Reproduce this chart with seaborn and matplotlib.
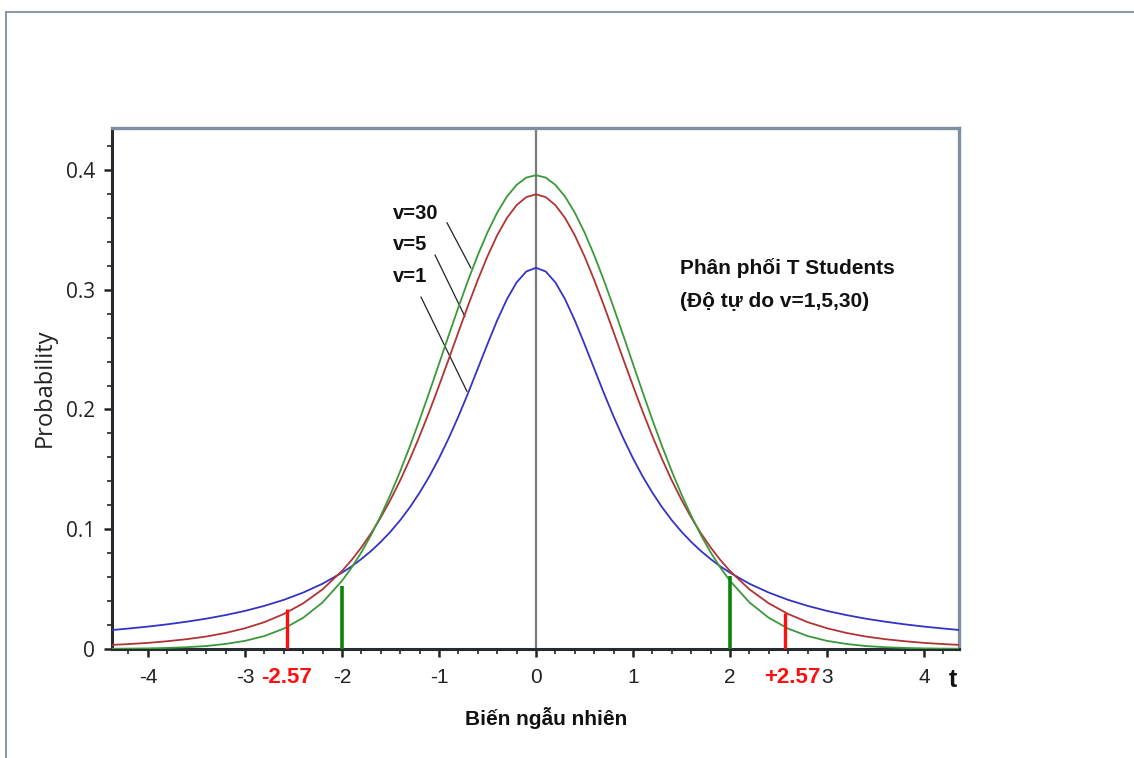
import numpy as np
import pandas as pd
import matplotlib
matplotlib.use("Agg")
import matplotlib.pyplot as plt
from matplotlib.ticker import MultipleLocator
from matplotlib.lines import Line2D
import seaborn as sns

# values
t_vals = [-4.4, -4.2, -4.0, -3.8, -3.6, -3.4, -3.2, -3.0, -2.8, -2.6, -2.4, -2.2,
          -2.0, -1.9, -1.8, -1.7, -1.6, -1.5, -1.4, -1.3, -1.2, -1.1, -1.0,
          -0.9, -0.8, -0.7, -0.6, -0.5, -0.4, -0.3, -0.2, -0.1, 0.0,
          0.1, 0.2, 0.3, 0.4, 0.5, 0.6, 0.7, 0.8, 0.9, 1.0,
          1.1, 1.2, 1.3, 1.4, 1.5, 1.6, 1.7, 1.8, 1.9, 2.0,
          2.2, 2.4, 2.6, 2.8, 3.0, 3.2, 3.4, 3.6, 3.8, 4.0, 4.2, 4.4]

p_v1 = [0.0156, 0.0171, 0.0187, 0.0206, 0.0228, 0.0253, 0.0283, 0.0318, 0.0360, 0.0410, 0.0471, 0.0545,
        0.0637, 0.0690, 0.0751, 0.0818, 0.0894, 0.0979, 0.1075, 0.1183, 0.1305, 0.1440, 0.1592,
        0.1759, 0.1941, 0.2136, 0.2341, 0.2546, 0.2744, 0.2920, 0.3061, 0.3152, 0.3183,
        0.3152, 0.3061, 0.2920, 0.2744, 0.2546, 0.2341, 0.2136, 0.1941, 0.1759, 0.1592,
        0.1440, 0.1305, 0.1183, 0.1075, 0.0979, 0.0894, 0.0818, 0.0751, 0.0690, 0.0637,
        0.0545, 0.0471, 0.0410, 0.0360, 0.0318, 0.0283, 0.0253, 0.0228, 0.0206, 0.0187, 0.0171, 0.0156]

p_v5 = [0.0033, 0.0041, 0.0051, 0.0065, 0.0082, 0.0104, 0.0134, 0.0173, 0.0224, 0.0292, 0.0381, 0.0498,
        0.0651, 0.0743, 0.0848, 0.0966, 0.1098, 0.1245, 0.1407, 0.1585, 0.1777, 0.1981, 0.2197,
        0.2419, 0.2645, 0.2868, 0.3081, 0.3279, 0.3454, 0.3598, 0.3706, 0.3773, 0.3796,
        0.3773, 0.3706, 0.3598, 0.3454, 0.3279, 0.3081, 0.2868, 0.2645, 0.2419, 0.2197,
        0.1981, 0.1777, 0.1585, 0.1407, 0.1245, 0.1098, 0.0966, 0.0848, 0.0743, 0.0651,
        0.0498, 0.0381, 0.0292, 0.0224, 0.0173, 0.0134, 0.0104, 0.0082, 0.0065, 0.0051, 0.0041, 0.0033]

p_v30 = [0.0002, 0.0003, 0.0005, 0.0009, 0.0015, 0.0025, 0.0042, 0.0068, 0.0108, 0.0170, 0.0260, 0.0389,
         0.0569, 0.0680, 0.0807, 0.0951, 0.1112, 0.1290, 0.1483, 0.1692, 0.1913, 0.2143, 0.2380,
         0.2618, 0.2852, 0.3078, 0.3288, 0.3479, 0.3643, 0.3777, 0.3875, 0.3936, 0.3956,
         0.3936, 0.3875, 0.3777, 0.3643, 0.3479, 0.3288, 0.3078, 0.2852, 0.2618, 0.2380,
         0.2143, 0.1913, 0.1692, 0.1483, 0.1290, 0.1112, 0.0951, 0.0807, 0.0680, 0.0569,
         0.0389, 0.0260, 0.0170, 0.0108, 0.0068, 0.0042, 0.0025, 0.0015, 0.0009, 0.0005, 0.0003, 0.0002]

series_names = ["v=1", "v=5", "v=30"]
series_colors = ["#3434c4", "#b03434", "#3a9a3a"]

crit_red = [-2.57, 2.57]
crit_red_h = [0.033, 0.030]
crit_red_labels = ["-2.57", "+2.57"]
crit_red_label_x = [-2.57, 2.64]
crit_green = [-2.0, 2.0]
crit_green_h = [0.053, 0.061]

x_ticks = [-4, -3, -2, -1, 0, 1, 2, 3, 4]
y_ticks = [0, 0.1, 0.2, 0.3, 0.4]
y_ticklabels = ["0", "0.1", "0.2", "0.3", "0.4"]

# label positions for the v=.. tags and their leader lines
tag_pos = [(-1.47, 0.311), (-1.47, 0.3375), (-1.47, 0.364)]
leader_lines = [((-1.186, 0.294), (-0.711, 0.215)),
                ((-1.041, 0.329), (-0.732, 0.2775)),
                ((-0.918, 0.356), (-0.670, 0.318))]

df = pd.DataFrame({
    "t": t_vals * 3,
    "p": p_v1 + p_v5 + p_v30,
    "v": [series_names[0]] * len(t_vals) + [series_names[1]] * len(t_vals) + [series_names[2]] * len(t_vals),
})

sns.set_style("ticks")
plt.rcParams["font.family"] = ["Liberation Sans", "DejaVu Sans"]

fig = plt.figure(figsize=(11.34, 7.58), dpi=100)
ax = fig.add_axes([112 / 1134, 1 - 649 / 758, 847 / 1134, 521 / 758])

ax.axvline(0, color="#7a7a7a", lw=1.6, zorder=1)

sns.lineplot(data=df, x="t", y="p", hue="v", palette=dict(zip(series_names, series_colors)),
             lw=1.3, legend=False, ax=ax, zorder=3)

for xv, h in zip(crit_green, crit_green_h):
    ax.plot([xv, xv], [0, h], color="#0a850a", lw=2.6, zorder=4, solid_capstyle="butt")
for xv, h in zip(crit_red, crit_red_h):
    ax.plot([xv, xv], [0, h], color="#ff1010", lw=2.4, zorder=4, solid_capstyle="butt")

ax.set_xlim(-4.37, 4.36)
ax.set_ylim(0, 0.435)
ax.set_xticks(x_ticks)
ax.set_xticklabels([str(v) for v in x_ticks])
ax.set_yticks(y_ticks)
ax.set_yticklabels(y_ticklabels)
ax.xaxis.set_minor_locator(MultipleLocator(0.2))
ax.yaxis.set_minor_locator(MultipleLocator(0.02))
ax.set_xlabel("")
ax.set_ylabel("")

ax.tick_params(which="major", direction="out", length=6, width=1.8, color="#222222",
               labelsize=15, labelcolor="#222222")
ax.tick_params(axis="x", which="major", pad=8)
ax.tick_params(axis="y", which="major", pad=6)
ax.tick_params(which="minor", direction="out", length=3.5, width=1.2, color="#222222")
for lab in ax.get_yticklabels():
    lab.set_fontfamily(["Open Sans", "DejaVu Sans"])

for side in ["left", "bottom"]:
    ax.spines[side].set_color("#262b33")
    ax.spines[side].set_linewidth(2.2)
for side in ["top", "right"]:
    ax.spines[side].set_visible(True)
    ax.spines[side].set_color("#7f8fa2")
    ax.spines[side].set_linewidth(2.4)

for name, (tx, ty) in zip(series_names, tag_pos):
    ax.text(tx, ty, name, fontsize=14.5, fontweight="bold", color="#111111", va="center", ha="left")
for (x0, y0), (x1, y1) in leader_lines:
    ax.plot([x0, x1], [y0, y1], color="#222222", lw=0.9, zorder=2)

ax.text(1.485, 0.318, "Phân phối T Students", fontsize=15, fontweight="bold",
        color="#111111", va="center", ha="left")
ax.text(1.485, 0.290, "(Độ tự do v=1,5,30)", fontsize=15, fontweight="bold",
        color="#111111", va="center", ha="left")

xt = ax.get_xaxis_transform()
for xv, lab in zip(crit_red_label_x, crit_red_labels):
    ax.text(xv, -0.054, lab, transform=xt, fontsize=16, fontweight="bold", color="#ff1010",
            ha="center", va="center")
ax.text(4.3, -0.060, "t", transform=xt, fontsize=18, fontweight="bold", color="#111111",
        ha="center", va="center")

fig.text(546 / 1134, 1 - 718 / 758, "Biến ngẫu nhiên", fontsize=15, fontweight="bold",
         color="#111111", ha="center", va="center")
fig.text(45 / 1134, 1 - 388 / 758, "Probability", fontsize=17, rotation=90,
         family=["Open Sans", "DejaVu Sans"], color="#222222", ha="center", va="center")

# outer frame of the original slide
fig.add_artist(Line2D([6 / 1134, 1.0], [1 - 12 / 758, 1 - 12 / 758], transform=fig.transFigure,
                      color="#8797a8", lw=1.4))
fig.add_artist(Line2D([6 / 1134, 6 / 1134], [0.0, 1 - 12 / 758], transform=fig.transFigure,
                      color="#8797a8", lw=1.4))

fig.savefig("out.png", dpi=100)
